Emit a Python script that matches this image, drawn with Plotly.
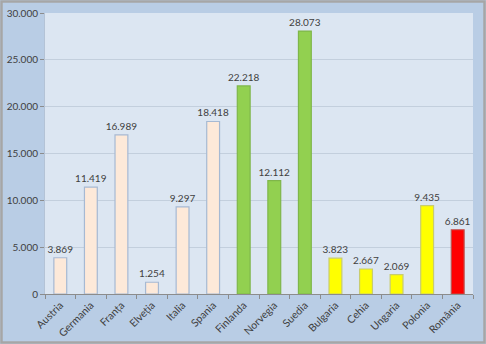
import plotly.graph_objects as go

countries = ["Austria", "Germania", "Franța", "Elveția", "Italia", "Spania", "Finlanda",
             "Norvegia", "Suedia", "Bulgaria", "Cehia", "Ungaria", "Polonia", "România"]
values = [3869, 11419, 16989, 1254, 9297, 18418, 22218, 12112, 28073, 3823, 2667, 2069, 9435, 6861]
fill_colors = ["#fde9d9"] * 6 + ["#92d050"] * 3 + ["#ffff00"] * 4 + ["#ff0000"]
line_colors = ["#a6b9d3"] * 6 + ["#7fb64a"] * 3 + ["#c8cc70"] * 4 + ["#c0504d"]
y_ticks = [0, 5000, 10000, 15000, 20000, 25000, 30000]

W, H = 486, 344
ml, mr, mt, mb = 45, 13, 13, 50

fig = go.Figure(go.Bar(
    x=countries, y=values,
    marker=dict(color=fill_colors, line=dict(color=line_colors, width=1.2)),
    width=0.42,
    text=values, texttemplate="%{y:,d}", textposition="outside",
    constraintext="none",
    textfont=dict(size=10, color="#404040", family="Lato"),
    cliponaxis=False,
))

pw = W - ml - mr
ph = H - mt - mb
fig.add_shape(type="rect", xref="paper", yref="paper",
              x0=(-ml + 1.5) / pw, x1=1 + (mr - 1.5) / pw,
              y0=(-mb + 1.5) / ph, y1=1 + (mt - 1.5) / ph,
              line=dict(color="#a6a6a6", width=2.5), layer="below")

fig.update_layout(
    width=W, height=H,
    margin=dict(l=ml, r=mr, t=mt, b=mb, autoexpand=False),
    paper_bgcolor="#b9cde5",
    plot_bgcolor="#dce6f2",
    separators=",.",
    showlegend=False,
    bargap=0.58,
    font=dict(family="Lato", size=10, color="#404040"),
    xaxis=dict(
        type="category", tickangle=-45, tickson="boundaries",
        ticks="outside", ticklen=4, tickcolor="#8c8c8c",
        showline=True, linecolor="#8c8c8c", linewidth=1,
        showgrid=False, tickfont=dict(size=10.5, color="#404040"),
        automargin=False,
    ),
    yaxis=dict(
        range=[0, 30000], tickvals=y_ticks, tickformat=",d",
        ticks="outside", ticklen=4, tickcolor="#8c8c8c",
        showline=True, linecolor="#b4c3d6", linewidth=1,
        gridcolor="#c3cfdd", gridwidth=1, zeroline=False,
        tickfont=dict(size=10, color="#404040"),
        automargin=False,
    ),
)

fig.write_html("out.html")
